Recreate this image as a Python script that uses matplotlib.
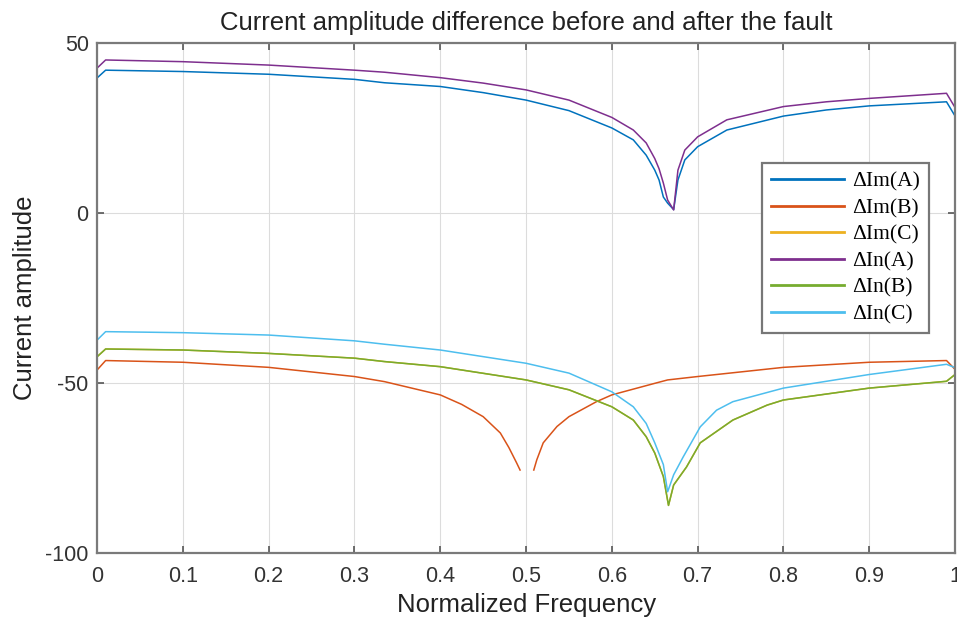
import numpy as np
from matplotlib import pyplot as plt

# values
x_upper = [0, 0.01, 0.1, 0.2, 0.3, 0.335, 0.4, 0.45, 0.5, 0.55, 0.6, 0.625, 0.64, 0.65,
           0.655, 0.66, 0.665, 0.672, 0.677, 0.685, 0.7, 0.734, 0.8, 0.85, 0.9, 0.99, 1.0]
im_a = [39.7, 42.0, 41.6, 40.8, 39.3, 38.3, 37.2, 35.4, 33.2, 30.1, 25.0, 21.5, 17.0, 12.6,
        9.7, 4.7, 2.9, 1.0, 9.7, 15.6, 19.5, 24.4, 28.5, 30.3, 31.5, 32.7, 28.5]
in_a = [42.6, 45.0, 44.5, 43.5, 42.0, 41.4, 39.8, 38.2, 36.2, 33.2, 28.1, 24.4, 20.6, 16.0,
        13.0, 8.8, 3.8, 0.9, 12.6, 18.5, 22.4, 27.4, 31.3, 32.7, 33.7, 35.2, 31.0]

x_b = [0, 0.01, 0.1, 0.2, 0.3, 0.335, 0.4, 0.425, 0.45, 0.47, 0.48, 0.489, 0.493, 0.5,
       0.509, 0.5125, 0.52, 0.536, 0.55, 0.582, 0.6, 0.65, 0.665, 0.7, 0.8, 0.9, 0.99, 1.0]
im_b = [-46.2, -43.4, -43.9, -45.4, -48.1, -49.6, -53.5, -56.3, -59.9, -64.7, -69.0, -73.5, -75.6, np.nan,
        -75.6, -72.6, -67.6, -62.8, -59.9, -55.5, -53.5, -50.1, -49.1, -48.1, -45.4, -43.9, -43.4, -46.0]

x_nb = [0, 0.01, 0.1, 0.2, 0.3, 0.335, 0.4, 0.5, 0.55, 0.6, 0.625, 0.64, 0.65, 0.66,
        0.666, 0.672, 0.687, 0.703, 0.741, 0.781, 0.8, 0.9, 0.99, 1.0]
in_b = [-42.3, -40.0, -40.3, -41.3, -42.7, -43.7, -45.2, -49.1, -52.0, -57.0, -60.9, -65.8, -70.6, -77.5,
        -86.0, -80.0, -74.7, -67.6, -60.9, -56.5, -55.0, -51.5, -49.5, -47.5]
im_c = in_b  # hidden under In(B) in the reference

x_nc = [0, 0.01, 0.1, 0.2, 0.3, 0.335, 0.4, 0.5, 0.55, 0.6, 0.625, 0.64, 0.65, 0.66,
        0.665, 0.672, 0.683, 0.703, 0.722, 0.741, 0.8, 0.9, 0.99, 1.0]
in_c = [-37.4, -34.9, -35.2, -35.9, -37.6, -38.6, -40.3, -44.2, -47.1, -52.6, -57.0, -61.9, -67.6, -74.0,
        -82.0, -77.0, -71.8, -62.9, -58.0, -55.5, -51.5, -47.5, -44.5, -45.5]

labels = ['ΔIm(A)', 'ΔIm(B)', 'ΔIm(C)', 'ΔIn(A)', 'ΔIn(B)', 'ΔIn(C)']
colors = ['#0072BD', '#D95319', '#EDB120', '#7E2F8E', '#77AC30', '#4DBEEE']


def main():
    plt.rcParams['font.family'] = ['Liberation Sans', 'DejaVu Sans']
    plt.rcParams['axes.unicode_minus'] = False
    fig = plt.figure(figsize=(9.57, 6.21), dpi=100)
    ax = fig.add_axes([0.1014, 0.1095, 0.8966, 0.8213])

    series = [(x_upper, im_a), (x_b, im_b), (x_nb, im_c),
              (x_upper, in_a), (x_nb, in_b), (x_nc, in_c)]
    for (xs, ys), lab, col in zip(series, labels, colors):
        ax.plot(xs, ys, color=col, linewidth=1.1, label=lab)

    ax.set_xlim(0, 1)
    ax.set_ylim(-100, 50)
    ax.set_xticks(np.arange(0, 1.01, 0.1))
    ax.set_xticklabels(['0', '0.1', '0.2', '0.3', '0.4', '0.5', '0.6', '0.7', '0.8', '0.9', '1'])
    ax.set_yticks([-100, -50, 0, 50])
    ax.grid(True, color='#dcdcdc', linewidth=0.8)
    ax.set_axisbelow(True)
    ax.tick_params(direction='in', top=True, right=True, length=5, width=1.2,
                   colors='#555555', labelcolor='#333333', labelsize=15.5)
    ax.tick_params(axis='x', pad=9)
    ax.tick_params(axis='y', pad=6)
    for sp in ax.spines.values():
        sp.set_color('#7a7a7a')
        sp.set_linewidth(1.6)

    ax.set_title('Current amplitude difference before and after the fault',
                 fontsize=18.5, color='#222222', pad=9)
    ax.set_xlabel('Normalized Frequency', fontsize=18.5, color='#222222', labelpad=5)
    ax.set_ylabel('Current amplitude', fontsize=18.5, color='#222222', labelpad=6)

    leg = ax.legend(loc='upper left', bbox_to_anchor=(0.775, 0.765), borderaxespad=0,
                    fancybox=False, framealpha=1, edgecolor='#777777', handlelength=3.4,
                    prop={'family': 'Liberation Serif', 'size': 15.5},
                    labelspacing=0.3, borderpad=0.4, handletextpad=0.4)
    leg.get_frame().set_linewidth(1.6)
    for line in leg.get_lines():
        line.set_linewidth(2)

    fig.savefig('out.png', dpi=100)


if __name__ == '__main__':
    main()
